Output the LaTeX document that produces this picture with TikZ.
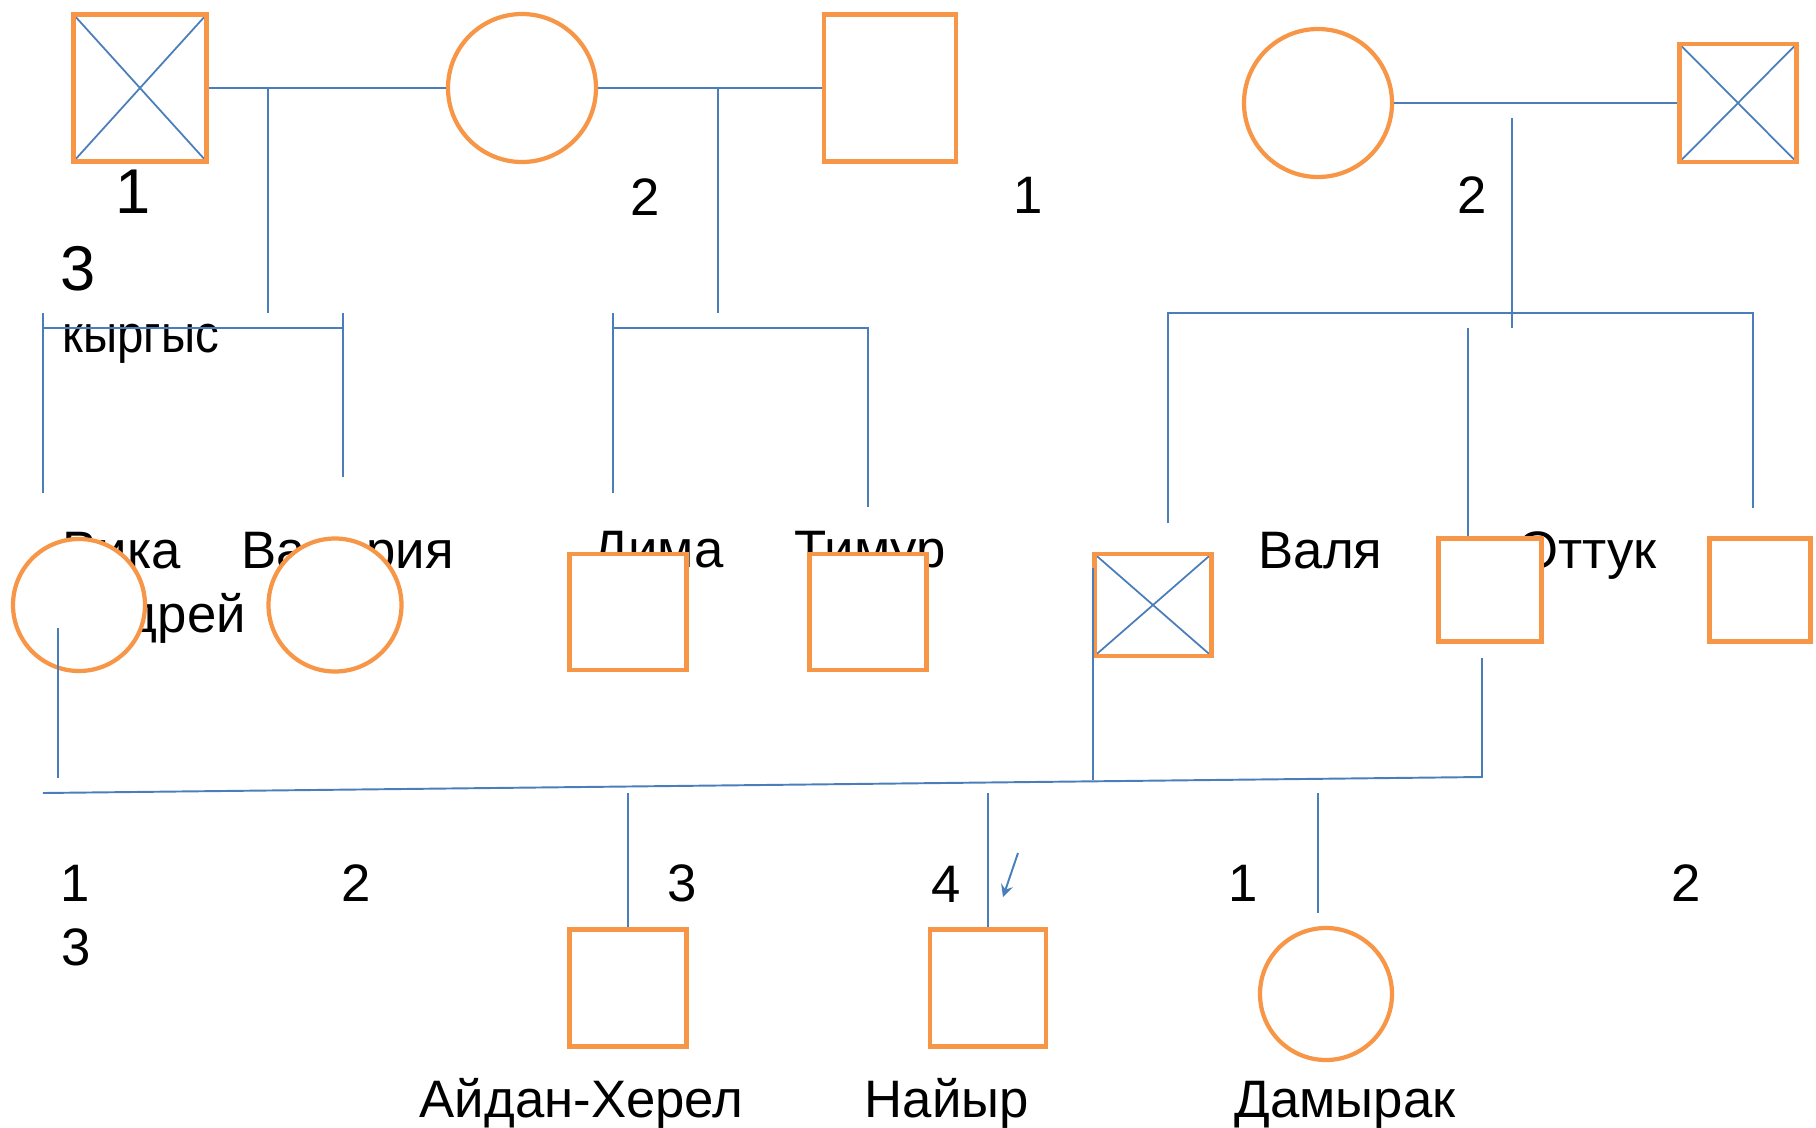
\documentclass[tikz,border=0pt]{standalone}
\usepackage{fontspec}
\setmainfont{Liberation Sans}
\definecolor{pedorange}{HTML}{F79646}
\definecolor{pedblue}{HTML}{4A7EBB}

\begin{document}
\begin{tikzpicture}[x=0.1mm,y=-0.1mm,inner sep=0pt,
    male/.style={rectangle,draw=pedorange,fill=white,line width=1.2pt},
    female/.style={circle,draw=pedorange,fill=white,line width=1.2pt},
    dead/.style={path picture={\draw[pedblue,line width=0.5pt]
        (path picture bounding box.north west) -- (path picture bounding box.south east)
        (path picture bounding box.south west) -- (path picture bounding box.north east);}},
    tag/.style={font=\fontsize{15pt}{18pt}\selectfont,anchor=base west},
    num/.style={font=\fontsize{15pt}{18pt}\selectfont,anchor=base},
    bignum/.style={font=\fontsize{18pt}{21pt}\selectfont,anchor=base},
    bond/.style={pedblue,line width=0.55pt}]
    \useasboundingbox (0,0) rectangle (1816,1127);
    % \draw[help lines] (0,0) grid[step=100] (1816,1127);

    % labels (under the symbols)
    \node[bignum] (n11) at (133,213) {1};
    \node[bignum] (n13) at (78,290)  {3};
    \node[tag]    (kyr) at (62,352)  {\scalebox{0.9}[1]{кыргыс}};
    \node[num]    (n12) at (645,215) {2};
    \node[num]    (n14) at (1028,213){1};
    \node[num]    (n15) at (1472,213){2};
    \node[tag] (tvika)   at (62,568)   {Вика};
    \node[tag] (tandrey) at (62,632)   {Андрей};
    \node[tag] (tval)    at (241,568)  {Валерия};
    \node[tag] (tdima)   at (592,567)  {Дима};
    \node[tag] (ttimur)  at (794,567)  {Тимур};
    \node[tag] (tvalya)  at (1258,568) {Валя};
    \node[tag] (tottuk)  at (1517,568) {Оттук};
    \node[num] (n31) at (75,901)   {1};
    \node[num] (n33) at (76,965)   {3};
    \node[num] (n32) at (356,901)  {2};
    \node[num] (n34) at (682,901)  {3};
    \node[num] (n35) at (946,902)  {4};
    \node[num] (n36) at (1243,901) {1};
    \node[num] (n37) at (1686,901) {2};
    \node[tag] (taidan)  at (419,1117)  {Айдан-Херел};
    \node[tag] (tnayyr)  at (864,1117)  {Найыр};
    \node[tag] (tdamyr)  at (1234,1117) {Дамырак};

    % generation I
    \node[male,dead,minimum width=13.3mm,minimum height=14.7mm] (gf1) at (140,88)  {};
    \node[female,minimum size=14.8mm]                          (gm1) at (522,88)  {};
    \node[male,minimum width=13.2mm,minimum height=14.7mm]      (gf2) at (890,88)  {};
    \node[female,minimum size=14.8mm]                          (gm2) at (1318,103){};
    \node[male,dead,minimum width=11.7mm,minimum height=11.8mm] (gf3) at (1738,103){};

    % generation II
    \node[female,minimum size=13.2mm] (vika)  at (79,605)  {};
    \node[female,minimum size=13.3mm] (valer) at (335,605) {};
    \node[male,minimum width=11.7mm,minimum height=11.6mm] (dima)  at (628,612) {};
    \node[male,minimum width=11.7mm,minimum height=11.6mm] (timur) at (868,612) {};
    \node[male,dead,minimum width=11.7mm,minimum height=10.2mm] (valya) at (1153,605) {};
    \node[male,minimum width=10.3mm,minimum height=10.3mm] (ottuk) at (1490,590) {};
    \node[male,minimum width=10.1mm,minimum height=10.3mm] (last)  at (1760,590) {};

    % generation III
    \node[male,minimum width=11.7mm,minimum height=11.7mm] (aidan) at (628,988) {};
    \node[male,minimum width=11.6mm,minimum height=11.7mm] (nayyr) at (988,988) {};
    \node[female,minimum size=13.2mm] (damyr) at (1326,994) {};

    % connectors
    \coordinate (ab)  at (268,88);   \coordinate (ab-d) at (268,313);
    \coordinate (bc)  at (718,88);   \coordinate (bc-d) at (718,313);
    \coordinate (de)  at (1512,118); \coordinate (de-d) at (1512,328);
    \coordinate (k1)  at (43,313);   \coordinate (k1b) at (43,493);
    \coordinate (k1h) at (43,328);   \coordinate (k2h) at (343,328);
    \coordinate (k2)  at (343,313);  \coordinate (k2b) at (343,477);
    \coordinate (l1)  at (613,313);  \coordinate (l1b) at (613,493);
    \coordinate (l1h) at (613,328);  \coordinate (l2h) at (868,328);
    \coordinate (l2b) at (868,507);
    \coordinate (r1)  at (1168,313); \coordinate (r1b) at (1168,523);
    \coordinate (r3)  at (1753,313); \coordinate (r3b) at (1753,508);
    \coordinate (r2)  at (1468,328);
    \coordinate (v1)  at (58,628);   \coordinate (v1b) at (58,778);
    \coordinate (g1)  at (43,793);   \coordinate (g2)  at (1482,777);
    \coordinate (g2u) at (1482,658);
    \coordinate (x1)  at (1093,568); \coordinate (x1b) at (1093,780);
    \coordinate (t1)  at (628,793);  \coordinate (t2)  at (988,793);
    \coordinate (t3)  at (1318,793); \coordinate (t3b) at (1318,913);
    \coordinate (a1)  at (1018,853); \coordinate (a2)  at (1003,897);

    \draw[bond] (gf1.east) -- (gm1.west);
    \draw[bond] (gm1.east) -- (gf2.west);
    \draw[bond] (gm2.east) -- (gf3.west);
    \draw[bond] (ab) -- (ab-d);
    \draw[bond] (bc) -- (bc-d);
    \draw[bond] (de) -- (de-d);
    \draw[bond] (k1) -- (k1b);
    \draw[bond] (k1h) -- (k2h);
    \draw[bond] (k2) -- (k2b);
    \draw[bond] (l1) -- (l1b);
    \draw[bond] (l1h) -- (l2h) -- (l2b);
    \draw[bond] (r1b) -- (r1) -- (r3) -- (r3b);
    \draw[bond] (r2) -- (r2 |- ottuk.north);
    \draw[bond] (v1) -- (v1b);
    \draw[bond] (g1) -- (g2) -- (g2u);
    \draw[bond] (x1) -- (x1b);
    \draw[bond] (t1) -- (aidan.north);
    \draw[bond] (t2) -- (nayyr.north);
    \draw[bond] (t3) -- (t3b);
    \draw[bond,->,>=stealth] (a1) -- (a2);
\end{tikzpicture}
\end{document}
